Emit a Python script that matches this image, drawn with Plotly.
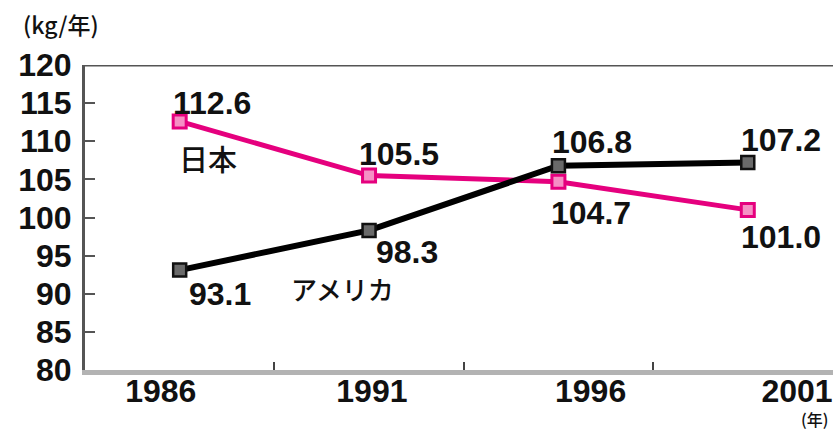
import plotly.graph_objects as go

years = ["1986", "1991", "1996", "2001"]
japan = [112.6, 105.5, 104.7, 101.0]
usa = [93.1, 98.3, 106.8, 107.2]
y_ticks = [80, 85, 90, 95, 100, 105, 110, 115, 120]

xi = list(range(len(years)))
PINK = "#e5007e"
NUM_FONT = "Liberation Sans, Arial, sans-serif"
JP_FONT = "Noto Sans CJK JP, sans-serif"

fig = go.Figure()
fig.add_trace(go.Scatter(
    x=xi, y=japan, mode="lines+markers", name="日本",
    line=dict(color=PINK, width=5),
    marker=dict(symbol="square", size=13, color="#f590c4",
                line=dict(color=PINK, width=3)),
))
fig.add_trace(go.Scatter(
    x=xi, y=usa, mode="lines+markers", name="アメリカ",
    line=dict(color="#000000", width=6),
    marker=dict(symbol="square", size=13, color="#6a6a6a",
                line=dict(color="#111111", width=2.5)),
))

# value labels (offsets in pixels)
jp_off = [(32, -18), (30, -22), (33, 31), (33, 27)]
us_off = [(40, 24), (38, 22), (34, -24), (33, -23)]
for i, v in enumerate(japan):
    fig.add_annotation(x=xi[i], y=v, text=f"{v:.1f}", showarrow=False,
                       xshift=jp_off[i][0], yshift=-jp_off[i][1],
                       font=dict(family=NUM_FONT, size=32, color="#111", weight="bold"))
for i, v in enumerate(usa):
    fig.add_annotation(x=xi[i], y=v, text=f"{v:.1f}", showarrow=False,
                       xshift=us_off[i][0], yshift=-us_off[i][1],
                       font=dict(family=NUM_FONT, size=32, color="#111", weight="bold"))

# series names
fig.add_annotation(x=xi[0], y=japan[0], text="日本", showarrow=False,
                   xshift=28, yshift=-37,
                   font=dict(family=JP_FONT, size=29, color="#111", weight=500))
fig.add_annotation(x=xi[1], y=usa[1], text="アメリカ", showarrow=False,
                   xshift=-27, yshift=-58,
                   font=dict(family=JP_FONT, size=26, color="#111", weight=500))

# unit labels
fig.add_annotation(xref="paper", yref="paper", x=-0.085, y=1.0, yshift=41,
                   text="(kg/年)", showarrow=False, xanchor="left", yanchor="middle",
                   font=dict(family=JP_FONT, size=23, color="#111", weight=500))
fig.add_annotation(xref="paper", yref="paper", x=1.0, y=0, yshift=-49, xshift=-3,
                   text="(年)", showarrow=False, xanchor="right", yanchor="middle",
                   font=dict(family=JP_FONT, size=16, color="#111", weight=500))

# top border line
fig.add_shape(type="line", xref="paper", yref="y", x0=0, x1=1, y0=120, y1=120,
              line=dict(color="#555555", width=3))

fig.update_layout(
    width=833, height=432,
    margin=dict(l=85, r=0, t=65, b=62),
    paper_bgcolor="white", plot_bgcolor="white",
    showlegend=False,
    xaxis=dict(
        range=[-0.5, 3.45],
        tickmode="array",
        tickvals=[-0.10, 1.015, 2.17, 3.26],
        ticktext=years,
        ticks="", showgrid=False, zeroline=False,
        showline=True, linecolor="#b3b3b3", linewidth=5,
        tickfont=dict(family=NUM_FONT, size=32, color="#111", weight="bold"),
        ticklabelstandoff=-11,
        minor=dict(tickmode="array", tickvals=[0.5, 1.5, 2.5],
                   ticks="inside", ticklen=8, tickcolor="#444", tickwidth=2),
    ),
    yaxis=dict(
        range=[80, 120],
        tickmode="array", tickvals=y_ticks,
        ticks="inside", ticklen=10, tickcolor="#555", tickwidth=2,
        showgrid=False, zeroline=False,
        showline=True, linecolor="#555555", linewidth=3,
        tickfont=dict(family=NUM_FONT, size=32, color="#111", weight="bold"),
        ticklabelstandoff=4,
    ),
)

fig.write_html("out.html")
